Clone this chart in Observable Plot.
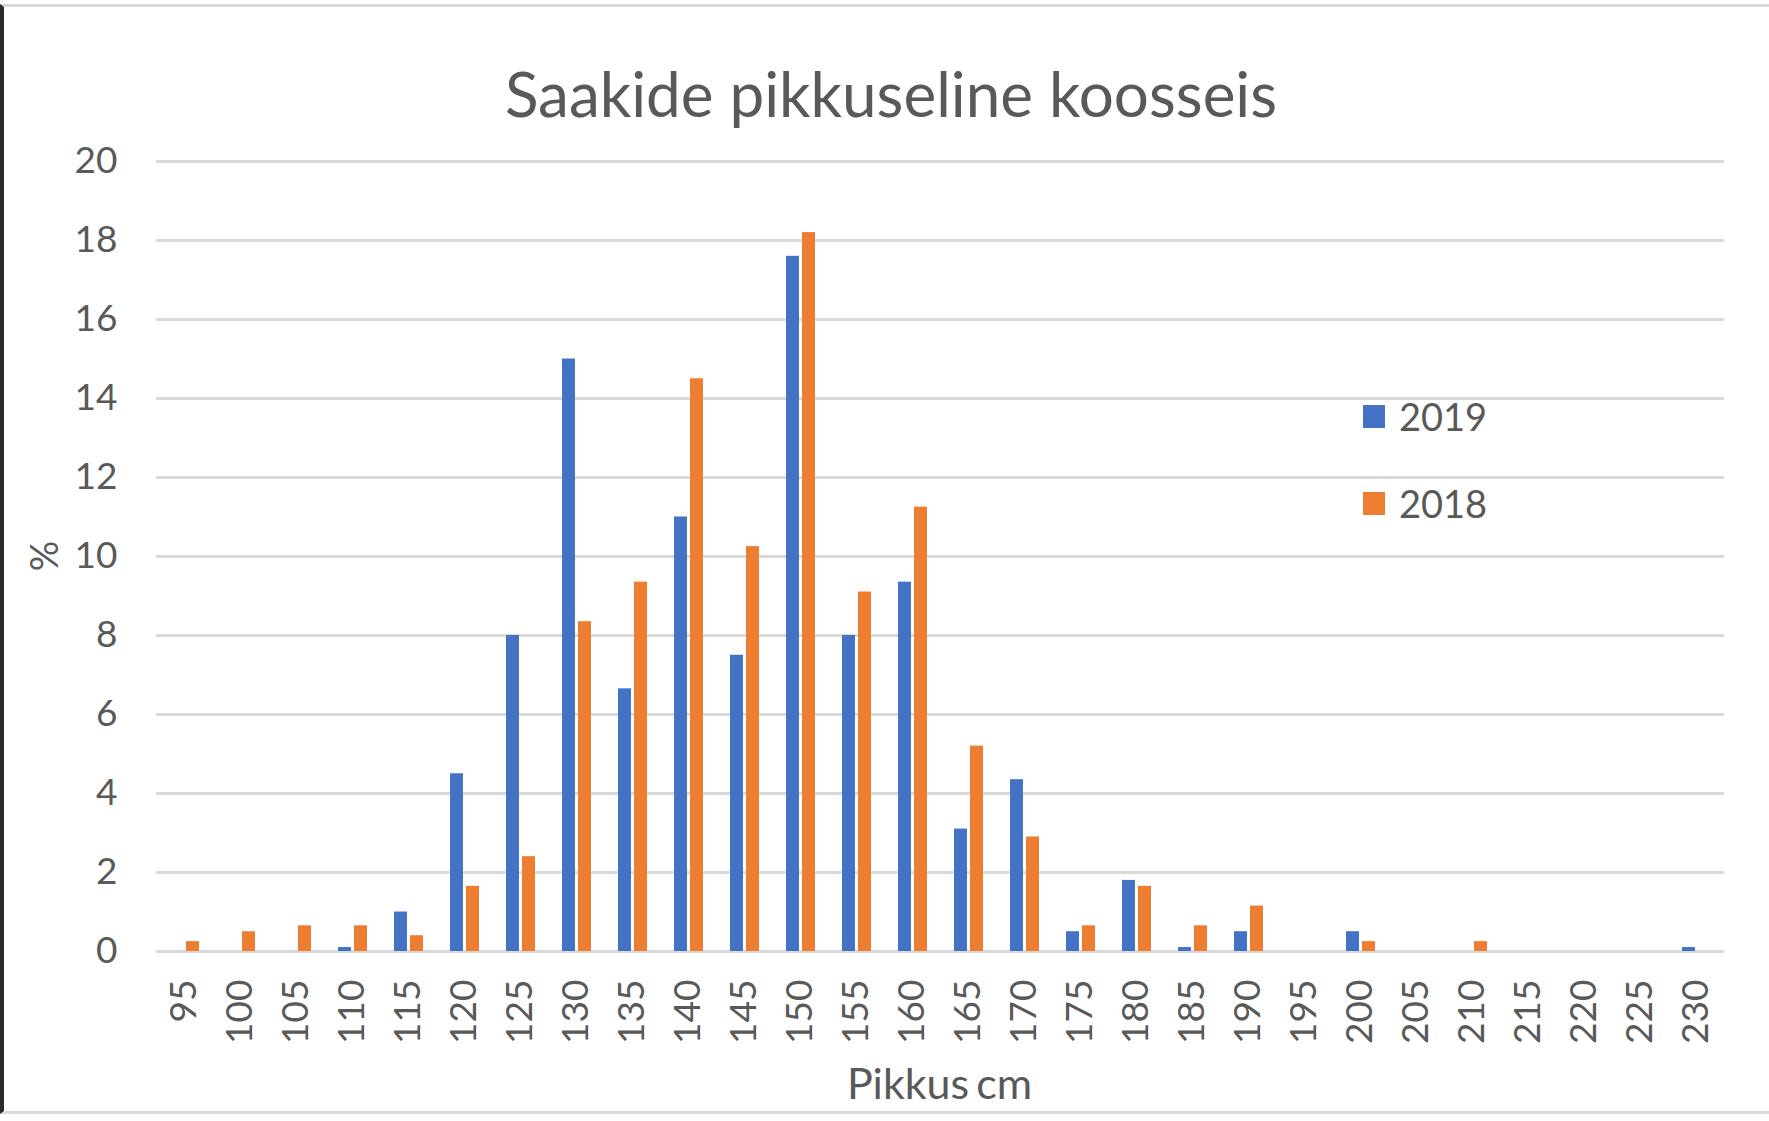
<!DOCTYPE html>
<html>
<head>
<meta charset="utf-8">
<script src="https://cdn.jsdelivr.net/npm/d3@7"></script>
<script src="https://cdn.jsdelivr.net/npm/@observablehq/plot@0.6"></script>
<style>
  body { margin: 0; background: #fff; }
  #chart { position: relative; width: 1769px; height: 1121px; overflow: hidden; font-family: Lato, "Open Sans", sans-serif; background: #fff; }
  #frame { position: absolute; left: 0; top: 4px; width: 1769px; height: 1110px; border-top: 3px solid #d9d9d9; border-bottom: 3px solid #d9d9d9; border-left: 4px solid #2b2b2b; box-sizing: border-box; pointer-events: none; }
  #title { position: absolute; left: 0; top: 58px; width: 1782px; text-align: center; font-size: 62px; line-height: 70px; color: #595959; }
  #ylabel { position: absolute; left: 43px; top: 556px; font-size: 38px; color: #595959; transform: translate(-50%, -50%) rotate(-90deg); white-space: nowrap; }
  .leg { position: absolute; left: 1363px; height: 40px; display: flex; align-items: center; font-size: 38px; color: #595959; }
  .leg span.sw { display: inline-block; width: 22px; height: 23px; margin-right: 14px; }
  #plot { position: absolute; left: 0; top: 0; }
</style>
</head>
<body>
<div id="chart">
  <div id="plot"></div>
  <div id="frame"></div>
  <div id="title"></div>
  <div id="ylabel"></div>
  <div id="legend"></div>
</div>
<script>
// Data
const title = "Saakide pikkuseline koosseis";
const xLabel = "Pikkus cm";
const yLabel = "%";
const categories = [95,100,105,110,115,120,125,130,135,140,145,150,155,160,165,170,175,180,185,190,195,200,205,210,215,220,225,230];
const seriesNames = ["2019", "2018"];
const values2019 = [0,0,0,0.1,1.0,4.5,8.0,15.0,6.65,11.0,7.5,17.6,8.0,9.35,3.1,4.35,0.5,1.8,0.1,0.5,0,0.5,0,0,0,0,0,0.1];
const values2018 = [0.25,0.5,0.65,0.65,0.4,1.65,2.4,8.35,9.35,14.5,10.25,18.2,9.1,11.25,5.2,2.9,0.65,1.65,0.65,1.15,0,0.25,0,0.25,0,0,0,0];
const yTicks = [0,2,4,6,8,10,12,14,16,18,20];
const colors = ["#4472C4", "#ED7D31"];

const seriesValues = {"2019": values2019, "2018": values2018};
const data = categories.flatMap((c, i) => seriesNames.map(s => ({cat: c, series: s, value: seriesValues[s][i]})));

document.getElementById("title").textContent = title;
document.getElementById("ylabel").textContent = yLabel;

const legend = document.getElementById("legend");
seriesNames.forEach((s, i) => {
  const row = document.createElement("div");
  row.className = "leg";
  row.style.top = (396 + i * 87) + "px";
  const sw = document.createElement("span");
  sw.className = "sw";
  sw.style.background = colors[i];
  row.appendChild(sw);
  row.appendChild(document.createTextNode(s));
  legend.appendChild(row);
});

const chart = Plot.plot({
  width: 1769,
  height: 1121,
  marginLeft: 155,
  marginRight: 45,
  marginTop: 161,
  marginBottom: 170,
  style: { fontFamily: "Lato, 'Open Sans', sans-serif", fontSize: "37px", color: "#595959", background: "transparent" },
  fx: {
    domain: categories,
    padding: 0,
    tickRotate: -90,
    tickSize: 0,
    tickPadding: 28,
    tickFormat: d => String(d),
    label: null
  },
  x: { domain: seriesNames, paddingInner: 0.19, paddingOuter: 0.84, axis: null },
  y: {
    domain: [0, 20],
    ticks: yTicks,
    tickSize: 0,
    tickPadding: 39,
    label: null
  },
  color: { domain: seriesNames, range: colors },
  marks: [
    Plot.ruleY(yTicks, { stroke: "#d9d9d9", strokeWidth: 3 }),
    Plot.barY(data, { fx: "cat", x: "series", y: "value", fill: "series" })
  ]
});
document.getElementById("plot").appendChild(chart);

// x-axis title, centred under the plot area
const xl = document.createElement("div");
xl.textContent = xLabel;
xl.style.cssText = "position:absolute;left:155px;width:1569px;top:1057px;text-align:center;font-size:43px;line-height:52px;color:#595959;word-spacing:-4px;";
document.getElementById("chart").appendChild(xl);
</script>
</body>
</html>
